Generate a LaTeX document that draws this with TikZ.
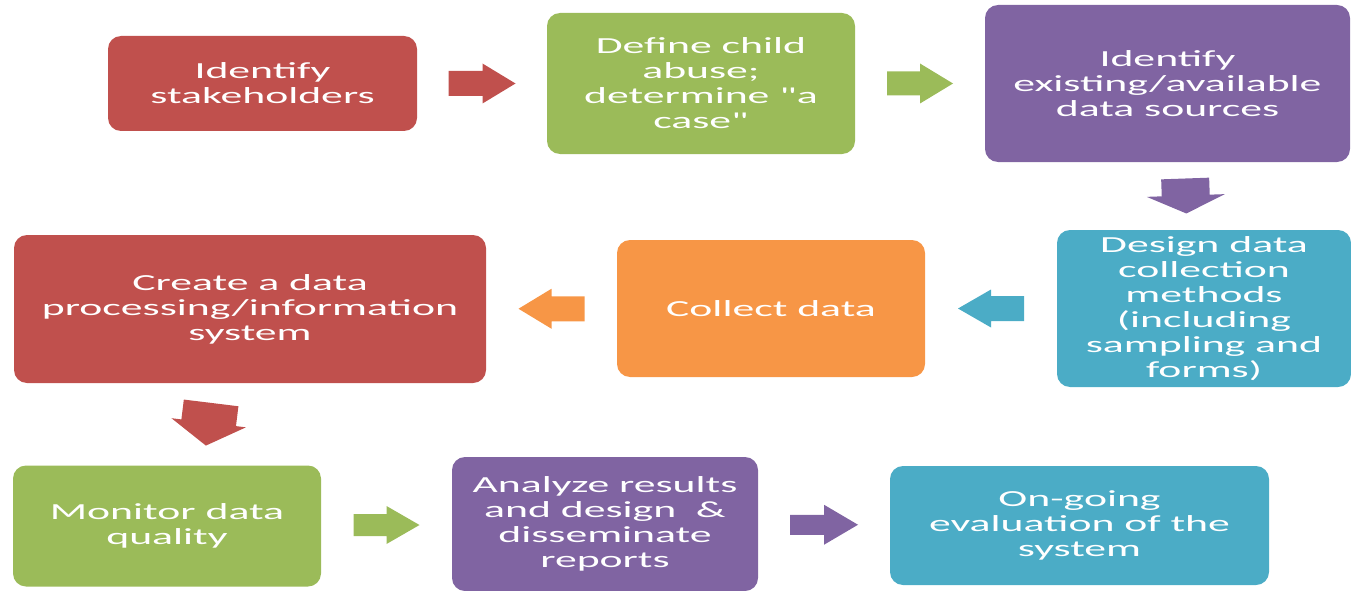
\documentclass[tikz,border=0pt]{standalone}
\usepackage{fontspec}
\setmainfont{Carlito}[FakeStretch=1.9, Ligatures=TeXOff]
\usetikzlibrary{calc}
\definecolor{cred}{HTML}{C0504D}
\definecolor{cgreen}{HTML}{9BBB59}
\definecolor{cpurple}{HTML}{8064A2}
\definecolor{cteal}{HTML}{4BACC6}
\definecolor{corange}{HTML}{F79646}
\tikzset{
  box/.style={rounded corners=13pt, inner sep=0pt, text=white, align=center,
    font=\fontsize{23}{25}\selectfont},
  pics/blockarrow/.style n args={4}{code={
    \path[pic actions] ({-#1/2},{-#3/2}) -- ({#1/2-#2},{-#3/2}) -- ({#1/2-#2},{-#4/2})
      -- ({#1/2},0) -- ({#1/2-#2},{#4/2}) -- ({#1/2-#2},{#3/2}) -- ({-#1/2},{#3/2}) -- cycle;
  }},
}
\begin{document}
\begin{tikzpicture}[x=1pt,y=-1pt]
\useasboundingbox (0,0) rectangle (1351,591);
\node[box, fill=cred, minimum width=309pt, minimum height=95pt] (n1) at (262.5,83.5) {Identify\\stakeholders};
\node[box, fill=cgreen, minimum width=308pt, minimum height=141pt] (n2) at (701,83.5) {Define child\\abuse;\\determine "a\\case"};
\node[box, fill=cpurple, minimum width=365pt, minimum height=157pt] (n3) at (1167.5,83.5) {Identify\\existing/available\\data sources};
\node[box, fill=cteal, minimum width=294pt, minimum height=157pt] (n4) at (1204,308.5) {Design data\\collection\\methods\\(including\\sampling and\\forms)};
\node[box, fill=corange, minimum width=308pt, minimum height=137pt] (n5) at (771,308.5) {Collect data};
\node[box, fill=cred, minimum width=472pt, minimum height=148pt] (n6) at (250,309) {Create a data\\processing/information\\system};
\node[box, fill=cgreen, minimum width=308pt, minimum height=121pt] (n7) at (167,526) {Monitor data\\quality};
\node[box, fill=cpurple, minimum width=306pt, minimum height=134pt] (n8) at (605,524) {Analyze results\\and design\ \ \&\\disseminate\\reports};
\node[box, fill=cteal, minimum width=379pt, minimum height=119pt] (n9) at (1079.5,525.5) {On-going\\evaluation of the\\system};
% block arrows between the steps
\pic[fill=cred] at ($(n1.east)!0.5!(n2.west)$) {blockarrow={67}{33}{25}{40}};
\pic[fill=cgreen] at ($(n2.east)!0.5!(n3.west)$) {blockarrow={66}{33}{24}{40}};
\pic[fill=cpurple, rotate=-88] at ($(n3.south)!0.5!(n4.north)$) {blockarrow={35}{18}{48}{78}};
\pic[fill=cteal, rotate=180] at ($(n5.east)!0.5!(n4.west)$) {blockarrow={66}{33}{25}{38}};
\pic[fill=corange, rotate=180] at ($(n6.east)!0.5!(n5.west)$) {blockarrow={66}{33}{25}{40}};
\pic[fill=cred, rotate=-97] at ($(n6.south)!0.5!(n7.north)$) {blockarrow={43}{23}{55}{75}};
\pic[fill=cgreen] at ($(n7.east)!0.5!(n8.west)$) {blockarrow={66}{33}{22}{38}};
\pic[fill=cpurple] at ($(n8.east)!0.5!(n9.west)$) {blockarrow={68}{34}{20}{40}};
\end{tikzpicture}
\end{document}
